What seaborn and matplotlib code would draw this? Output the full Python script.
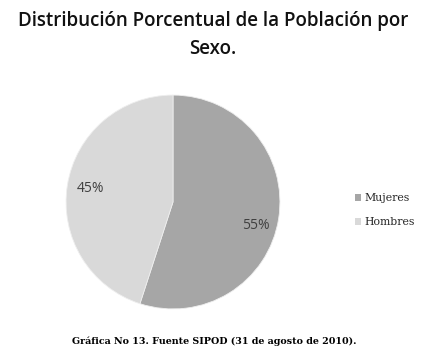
import matplotlib
matplotlib.use("Agg")
import matplotlib.pyplot as plt
import seaborn as sns
from matplotlib.patches import Patch

# === Data ===
categories = ["Mujeres", "Hombres"]
percentages = [55, 45]
colors = ["#a6a6a6", "#d9d9d9"]

title_text = "Distribución Porcentual de la Población por\nSexo."
caption_text = "Gráfica No 13. Fuente SIPOD (31 de agosto de 2010)."

sns.set_theme(style="white")
palette = sns.color_palette(colors)

W, H = 429, 353
fig = plt.figure(figsize=(W / 100, H / 100), dpi=100)
fig.patch.set_facecolor("white")

# pie axes in pixel box (x 65..281, y 95..310)
ax = fig.add_axes([65 / W, (H - 310) / H, 216 / W, 216 / H])
wedges, texts, autotexts = ax.pie(
    percentages,
    colors=palette,
    startangle=90,
    counterclock=False,
    autopct="%d%%",
    pctdistance=0.78,
    radius=1,
    wedgeprops=dict(edgecolor="#eeeeee", linewidth=0.6),
    textprops=dict(family="Open Sans", fontsize=10, color="#404040"),
)
# Excel puts the 55% label a bit lower
x0, y0 = autotexts[0].get_position()
autotexts[0].set_position((x0, y0 - 0.1))
ax.set_xlim(-1.01, 1.01)
ax.set_ylim(-1.01, 1.01)
ax.set_aspect("equal")
ax.axis("off")

# title
fig.text(213 / W, 1 - 35 / H, title_text, ha="center", va="center",
         family="Open Sans", fontsize=13.5, fontweight="semibold",
         color="#111111", linespacing=1.5)

# legend
handles = [Patch(facecolor=c, edgecolor="none", label=l) for c, l in zip(palette, categories)]
fig.legend(handles=handles, loc="center left", bbox_to_anchor=(345 / W, 1 - 210 / H),
           frameon=False, prop=dict(family="DejaVu Serif", size=7.8),
           handlelength=0.6, handleheight=0.6, handletextpad=0.25, labelspacing=1.3)

# caption
fig.text(214 / W, 1 - 341 / H, caption_text, ha="center", va="center",
         family="DejaVu Serif", fontsize=6.8, fontweight="bold", color="black")

fig.savefig("out.png", dpi=100, facecolor="white")
